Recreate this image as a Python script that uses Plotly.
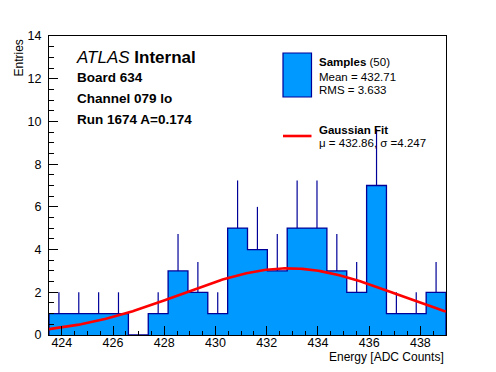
import numpy as np
import plotly.graph_objects as go

# ---- data ----
bin_edges = [423.5 + 0.775 * i for i in range(21)]
counts = [1, 1, 1, 1, 0, 1, 3, 2, 1, 5, 4, 3, 5, 5, 3, 2, 7, 1, 1, 2]
fit_mu = 432.86
fit_sigma = 4.247
fit_amp = 3.12
x_ticks = [424, 426, 428, 430, 432, 434, 436, 438]
y_ticks = [0, 2, 4, 6, 8, 10, 12, 14]
n_samples = 50
mean_val = 432.71
rms_val = 3.633

# ---- derived ----
edges = np.array(bin_edges)
cnt = np.array(counts, dtype=float)
centers = (edges[:-1] + edges[1:]) / 2
widths = edges[1:] - edges[:-1]
errs = np.sqrt(cnt)

FILL = "#0099ff"
EDGE = "#000099"
FONT = "Liberation Sans, Arial, Helvetica, sans-serif"

W, H = 496, 372
L, R, T, B = 49, 446, 36, 335


def px(x):
    return (x - L) / (R - L)


def py(y):
    return (B - y) / (B - T)


fig = go.Figure()

# filled histogram
fig.add_trace(go.Bar(x=centers, y=cnt, width=widths, marker=dict(color=FILL, line=dict(width=0)),
                     showlegend=False, hoverinfo="skip"))

# outline step
step_x = [edges[0]] + list(edges[:-1]) + [edges[-1], edges[-1]]
step_y = [0] + list(cnt) + [cnt[-1], 0]
fig.add_trace(go.Scatter(x=step_x, y=step_y, mode="lines", line=dict(color=EDGE, width=1.3, shape="hv"),
                         showlegend=False, hoverinfo="skip"))

# error bars (upper part visible)
fig.add_trace(go.Scatter(x=centers, y=cnt, mode="markers", marker=dict(size=1, opacity=0),
                         error_y=dict(type="data", array=errs, arrayminus=np.zeros_like(errs),
                                      width=0, thickness=1.2, color=EDGE),
                         showlegend=False, hoverinfo="skip"))

# gaussian fit
xf = np.linspace(edges[0], edges[-1], 200)
yf = fit_amp * np.exp(-0.5 * ((xf - fit_mu) / fit_sigma) ** 2)
fig.add_trace(go.Scatter(x=xf, y=yf, mode="lines", line=dict(color="#ff0000", width=2.6),
                         showlegend=False, hoverinfo="skip"))

ann = []
ann.append(dict(x=px(74), y=py(58), xref="paper", yref="paper", xanchor="left", yanchor="middle",
                text="<i>ATLAS</i> <b>Internal</b>", showarrow=False,
                font=dict(family=FONT, size=17, color="black")))
for i, t in enumerate(["Board 634", "Channel 079 lo", "Run 1674 A=0.174"]):
    ann.append(dict(x=px(75), y=py(77 + 21 * i), xref="paper", yref="paper", xanchor="left", yanchor="middle",
                    text="<b>%s</b>" % t, showarrow=False, font=dict(family=FONT, size=13.5, color="black")))

# legend
leg = [("<b>Samples</b> (%d)" % n_samples, 62),
       ("Mean = %.2f" % mean_val, 76.5),
       ("RMS = %.3f" % rms_val, 90),
       ("<b>Gaussian Fit</b>", 129.5),
       ("\u03bc = %.2f, \u03c3 =%.3f" % (fit_mu, fit_sigma), 143)]
for t, yy in leg:
    ann.append(dict(x=px(317), y=py(yy), xref="paper", yref="paper", xanchor="left", yanchor="middle",
                    text=t, showarrow=False, font=dict(family=FONT, size=11.5, color="black")))

# axis titles
ann.append(dict(x=1, y=py(357), xref="paper", yref="paper", xanchor="right", yanchor="middle",
                text="Energy [ADC Counts]", showarrow=False, font=dict(family=FONT, size=12, color="black")))
ann.append(dict(x=px(18), y=py(38), xref="paper", yref="paper", xanchor="center", yanchor="top",
                text="Entries", textangle=-90, showarrow=False, font=dict(family=FONT, size=12, color="black")))

shapes = [
    dict(type="rect", xref="paper", yref="paper", x0=px(283), x1=px(311.5), y0=py(53), y1=py(97),
         fillcolor=FILL, line=dict(color=EDGE, width=1.2)),
    dict(type="line", xref="paper", yref="paper", x0=px(283), x1=px(311.5), y0=py(136), y1=py(136),
         line=dict(color="#ff0000", width=2.6)),
]

fig.update_layout(
    width=W, height=H,
    margin=dict(l=L, r=W - R, t=T, b=H - B, pad=0),
    paper_bgcolor="white", plot_bgcolor="white",
    bargap=0, barmode="overlay",
    annotations=ann, shapes=shapes,
    font=dict(family=FONT, size=12.5, color="black"),
    xaxis=dict(range=[edges[0], edges[-1]], tickvals=x_ticks, ticks="inside", ticklen=9, tickwidth=1,
               tickcolor="black", showline=True, linecolor="black", linewidth=1, mirror=True,
               showgrid=False, zeroline=False, ticklabelstandoff=-4,
               minor=dict(dtick=0.5, tick0=424, ticks="inside", ticklen=4.5, tickcolor="black", showgrid=False),
               tickfont=dict(family=FONT, size=12.5, color="black")),
    yaxis=dict(range=[0, 14], tickvals=y_ticks, ticks="inside", ticklen=9, tickwidth=1,
               tickcolor="black", showline=True, linecolor="black", linewidth=1, mirror=True,
               showgrid=False, zeroline=False, ticklabelstandoff=4,
               minor=dict(dtick=0.5, tick0=0, ticks="inside", ticklen=4.5, tickcolor="black", showgrid=False),
               tickfont=dict(family=FONT, size=12.5, color="black")),
)

fig.write_html("out.html", config={"displayModeBar": False},
               post_script="document.body.style.margin='0';document.body.style.overflow='hidden';")
